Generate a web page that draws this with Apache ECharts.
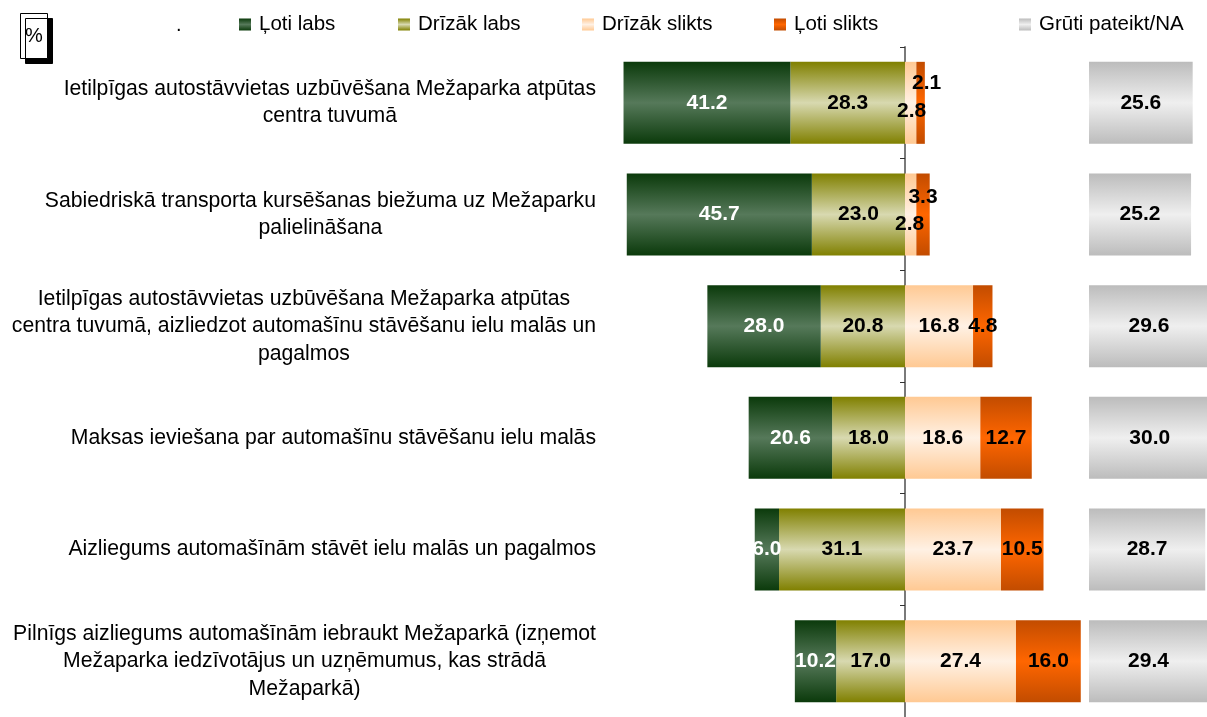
<!DOCTYPE html>
<html><head><meta charset="utf-8">
<script src="https://cdn.jsdelivr.net/npm/echarts@6/dist/echarts.min.js"></script>
<style>html,body{margin:0;padding:0;background:#fff}#c{width:1207px;height:717px}</style>
</head><body><div id="c"></div>
<script>
// ---- data ----
const categories = [
  'Ietilpīgas autostāvvietas uzbūvēšana Mežaparka atpūtas\ncentra tuvumā',
  'Sabiedriskā transporta kursēšanas biežuma uz Mežaparku\npalielināšana',
  'Ietilpīgas autostāvvietas uzbūvēšana Mežaparka atpūtas\ncentra tuvumā, aizliedzot automašīnu stāvēšanu ielu malās un\npagalmos',
  'Maksas ieviešana par automašīnu stāvēšanu ielu malās',
  'Aizliegums automašīnām stāvēt ielu malās un pagalmos',
  'Pilnīgs aizliegums automašīnām iebraukt Mežaparkā (izņemot\nMežaparka iedzīvotājus un uzņēmumus, kas strādā\nMežaparkā)'
];
const lotiLabs     = [41.2, 45.7, 28.0, 20.6, 6.0, 10.2];
const drizakLabs   = [28.3, 23.0, 20.8, 18.0, 31.1, 17.0];
const drizakSlikts = [2.8, 2.8, 16.8, 18.6, 23.7, 27.4];
const lotiSlikts   = [2.1, 3.3, 4.8, 12.7, 10.5, 16.0];
const grutiPateikt = [25.6, 25.2, 29.6, 30.0, 28.7, 29.4];
const seriesNames  = ['Ļoti labs', 'Drīzāk labs', 'Drīzāk slikts', 'Ļoti slikts', 'Grūti pateikt/NA'];

// ---- style ----
const FONT = 'Liberation Sans, Arial, sans-serif';
function grad(edge, mid) {
  return new echarts.graphic.LinearGradient(0, 0, 0, 1, [
    {offset: 0, color: edge}, {offset: 0.5, color: mid}, {offset: 1, color: edge}
  ]);
}
const colors = {
  'Ļoti labs': grad('#0b3a0b', '#56795a'),
  'Drīzāk labs': grad('#808000', '#d8d9b0'),
  'Drīzāk slikts': grad('#ffc993', '#fff1e4'),
  'Ļoti slikts': grad('#c24c00', '#ff6600'),
  'Grūti pateikt/NA': grad('#bcbcbc', '#efefef')
};
// manual label nudges for very small segments (row index -> offset)
const labelNudge = {
  'Drīzāk slikts': {0: [1, 8], 1: [-1, 10]},
  'Ļoti slikts': {0: [6, -20], 1: [0, -17]}
};
const S = 4.05;          // px per percentage point
const ZERO_X = 905;
const MIN = -75, MAX = 45;
const BAR = 82;
const GRID_LEFT = ZERO_X + MIN * S;

function mkData(name, arr, sign) {
  return arr.map((v, i) => {
    const d = {value: sign * v};
    const n = labelNudge[name] && labelNudge[name][i];
    if (n) d.label = {offset: n};
    return d;
  });
}
function mkSeries(name, arr, sign, labelColor, axisIdx) {
  return {
    name, type: 'bar', stack: axisIdx === 0 ? 'main' : 'na',
    xAxisIndex: axisIdx, yAxisIndex: axisIdx,
    barWidth: BAR,
    itemStyle: {color: colors[name]},
    label: {
      show: true, position: 'inside', color: labelColor,
      fontFamily: FONT, fontWeight: 'bold', fontSize: 21,
      formatter: p => Math.abs(p.value).toFixed(1)
    },
    data: mkData(name, arr, sign)
  };
}

const legendX = [234, 393, 577, 769, 1014];
const legends = seriesNames.map((n, i) => ({
  data: [n], left: legendX[i], top: 9, itemWidth: 12, itemHeight: 12,
  icon: 'rect', selectedMode: false,
  textStyle: {fontFamily: FONT, fontSize: 20.5, color: '#000', padding: [0, 0, 0, 3]}
}));

const option = {
  animation: false,
  backgroundColor: '#fff',
  title: [
    {text: '%', left: 20, top: 13, padding: [11, 5, 11, 5],
     backgroundColor: '#fff', borderColor: '#000', borderWidth: 1,
     shadowColor: '#000', shadowOffsetX: 5, shadowOffsetY: 5, shadowBlur: 0,
     textStyle: {fontFamily: FONT, fontSize: 20, fontWeight: 'normal', color: '#000', lineHeight: 24}},
    {text: '.', left: 171, top: 10,
     textStyle: {fontFamily: FONT, fontSize: 20, fontWeight: 'normal', color: '#000'}}
  ],
  legend: legends,
  grid: [
    {left: GRID_LEFT, width: (MAX - MIN) * S, top: 47, bottom: 0,
     containLabel: false, outerBoundsMode: 'none'},
    {left: 1089, width: 30 * S, top: 47, bottom: 0,
     containLabel: false, outerBoundsMode: 'none'}
  ],
  xAxis: [
    {gridIndex: 0, type: 'value', min: MIN, max: MAX, show: false},
    {gridIndex: 1, type: 'value', min: 0, max: 30, show: false}
  ],
  yAxis: [
    {gridIndex: 0, type: 'category', inverse: true, data: categories,
     axisLine: {show: true, onZero: true, lineStyle: {color: '#7a7a7a', width: 2}},
     axisTick: {show: true, length: 5, lineStyle: {color: '#333', width: 1}},
     splitLine: {show: false},
     axisLabel: {
       margin: GRID_LEFT - 596, align: 'right', color: '#000',
       formatter: v => '{c|' + v + '}',
       rich: {c: {align: 'center', fontFamily: FONT, fontSize: 21.2, lineHeight: 27.5, color: '#000'}}
     }},
    {gridIndex: 1, type: 'category', inverse: true, data: categories, show: false}
  ],
  series: [
    mkSeries('Drīzāk labs', drizakLabs, -1, '#000', 0),
    mkSeries('Ļoti labs', lotiLabs, -1, '#fff', 0),
    mkSeries('Drīzāk slikts', drizakSlikts, 1, '#000', 0),
    mkSeries('Ļoti slikts', lotiSlikts, 1, '#000', 0),
    mkSeries('Grūti pateikt/NA', grutiPateikt, 1, '#000', 1)
  ]
};
const chart = echarts.init(document.getElementById('c'), null, {renderer: 'canvas'});
chart.setOption(option);
</script>
</body></html>
